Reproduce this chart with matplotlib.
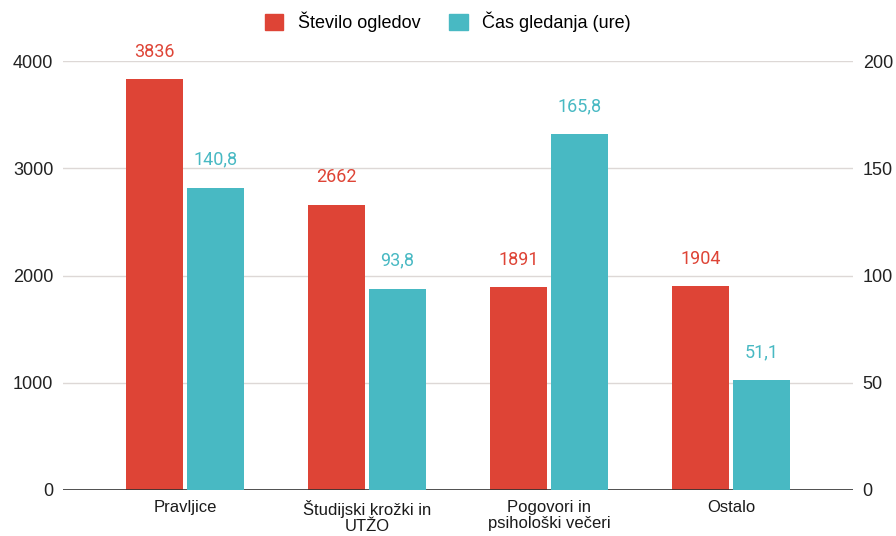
import matplotlib
matplotlib.use("Agg")
import matplotlib.pyplot as plt
import numpy as np
from matplotlib.patches import Patch

categories = ["Pravljice", "Študijski krožki in\nUTŽO", "Pogovori in\npsihološki večeri", "Ostalo"]
views = [3836, 2662, 1891, 1904]
hours = [140.8, 93.8, 165.8, 51.1]
left_ticks = [0, 1000, 2000, 3000, 4000]
right_ticks = [0, 50, 100, 150, 200]

RED = "#DE4436"
TEAL = "#48B9C3"

plt.rcParams['font.family'] = ['Liberation Sans', 'DejaVu Sans']

fig = plt.figure(figsize=(8.96, 5.36), dpi=100)
ax = fig.add_axes([63/896, 46/536, (853-63)/896, 429/536])
ax2 = ax.twinx()

x = np.arange(len(categories))
w = 0.315
gap = 0.009
ax.bar(x - w/2 - gap, views, width=w, color=RED, zorder=3)
ax2.bar(x + w/2 + gap, hours, width=w, color=TEAL, zorder=3)

ax.set_ylim(0, 4000)
ax2.set_ylim(0, 200)
ax.set_xlim(-0.67, 3.67)
ax.set_yticks(left_ticks)
ax2.set_yticks(right_ticks)
ax.set_xticks(x)
ax.set_xticklabels(categories, fontsize=12, color="#1a1a1a", linespacing=1.08)

for a in (ax, ax2):
    for s in a.spines.values():
        s.set_visible(False)
    a.tick_params(axis='y', length=0, labelsize=13, labelcolor="#222222", pad=7)
    a.tick_params(axis='x', length=0, pad=7)

ax.grid(axis='y', color="#DDD8D6", linewidth=1, zorder=0)
ax.set_axisbelow(True)
ax.axhline(0, color="#333333", linewidth=1.2, zorder=4)

for xi, v in zip(x, views):
    ax.annotate(f"{v}", (xi - w/2 - gap, v), xytext=(0, 13), textcoords="offset points",
                ha="center", va="bottom", color=RED, fontsize=13, family=['Roboto', 'DejaVu Sans'])
for xi, v in zip(x, hours):
    ax2.annotate(f"{v:.1f}".replace(".", ","), (xi + w/2 + gap, v), xytext=(0, 14), textcoords="offset points",
                 ha="center", va="bottom", color=TEAL, fontsize=13, family=['Roboto', 'DejaVu Sans'])

handles = [Patch(color=RED, label="Število ogledov"), Patch(color=TEAL, label="Čas gledanja (ure)")]
fig.legend(handles=handles, loc="upper center", bbox_to_anchor=(0.5, 1.008), ncol=2, frameon=False,
           fontsize=13, handlelength=1.0, handleheight=1.0, columnspacing=1.6, handletextpad=0.8)

fig.savefig("out.png", dpi=100)
